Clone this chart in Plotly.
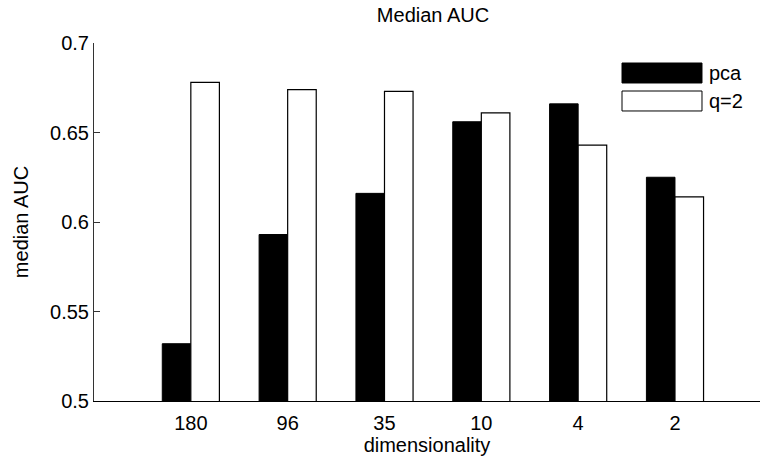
import plotly.graph_objects as go

# Median AUC per embedding dimensionality
dimensionality = ["180", "96", "35", "10", "4", "2"]
pca_auc = [0.532, 0.593, 0.616, 0.656, 0.666, 0.625]
q2_auc = [0.678, 0.674, 0.673, 0.661, 0.643, 0.614]

positions = list(range(1, len(dimensionality) + 1))
font_family = "Liberation Sans, Arial, sans-serif"
font_size = 20

fig = go.Figure()
fig.add_trace(go.Bar(
    x=positions, y=pca_auc, name="pca",
    marker=dict(color="black", line=dict(color="black", width=1)),
    showlegend=False,
))
fig.add_trace(go.Bar(
    x=positions, y=q2_auc, name="q=2",
    marker=dict(color="white", line=dict(color="black", width=1.2)),
    showlegend=False,
))

# Legend drawn as wide swatches in the upper right of the axes
legend_items = [("pca", "black", 0.8883, 0.9441), ("q=2", "white", 0.8101, 0.8659)]
shapes = []
annotations = []
for label, color, y0, y1 in legend_items:
    shapes.append(dict(type="rect", xref="paper", yref="paper",
                       x0=0.7928, x1=0.9129, y0=y0, y1=y1,
                       fillcolor=color, line=dict(color="black", width=1)))
    annotations.append(dict(xref="paper", yref="paper", x=0.921, y=(y0 + y1) / 2,
                            text=label, showarrow=False, xanchor="left", yanchor="middle",
                            font=dict(family=font_family, size=font_size, color="black")))

fig.update_layout(
    width=760, height=462,
    margin=dict(l=94, r=0, t=43, b=61),
    paper_bgcolor="white", plot_bgcolor="white",
    barmode="group", bargap=0.41, bargroupgap=0,
    font=dict(family=font_family, size=font_size, color="black"),
    title=dict(text="Median AUC", x=433 / 760, xanchor="center",
               y=1 - 15 / 462, yanchor="middle",
               font=dict(family=font_family, size=font_size, color="black")),
    shapes=shapes,
    annotations=annotations,
)
fig.update_xaxes(
    range=[0, 6.878],
    tickmode="array", tickvals=positions, ticktext=dimensionality,
    showgrid=False, zeroline=False,
    showline=True, linecolor="black", linewidth=1,
    ticks="", ticklabelstandoff=4,
    title=dict(text="dimensionality", standoff=2, font=dict(size=font_size)),
)
fig.update_yaxes(
    range=[0.5, 0.7],
    tickmode="array", tickvals=[0.5, 0.55, 0.6, 0.65, 0.7],
    ticktext=["0.5", "0.55", "0.6", "0.65", "0.7"],
    showgrid=False, zeroline=False,
    showline=True, linecolor="#333333", linewidth=1,
    ticks="inside", ticklen=6, tickcolor="#333333",
    title=dict(text="median AUC", standoff=16, font=dict(size=font_size)),
)

fig.write_html("out.html")
